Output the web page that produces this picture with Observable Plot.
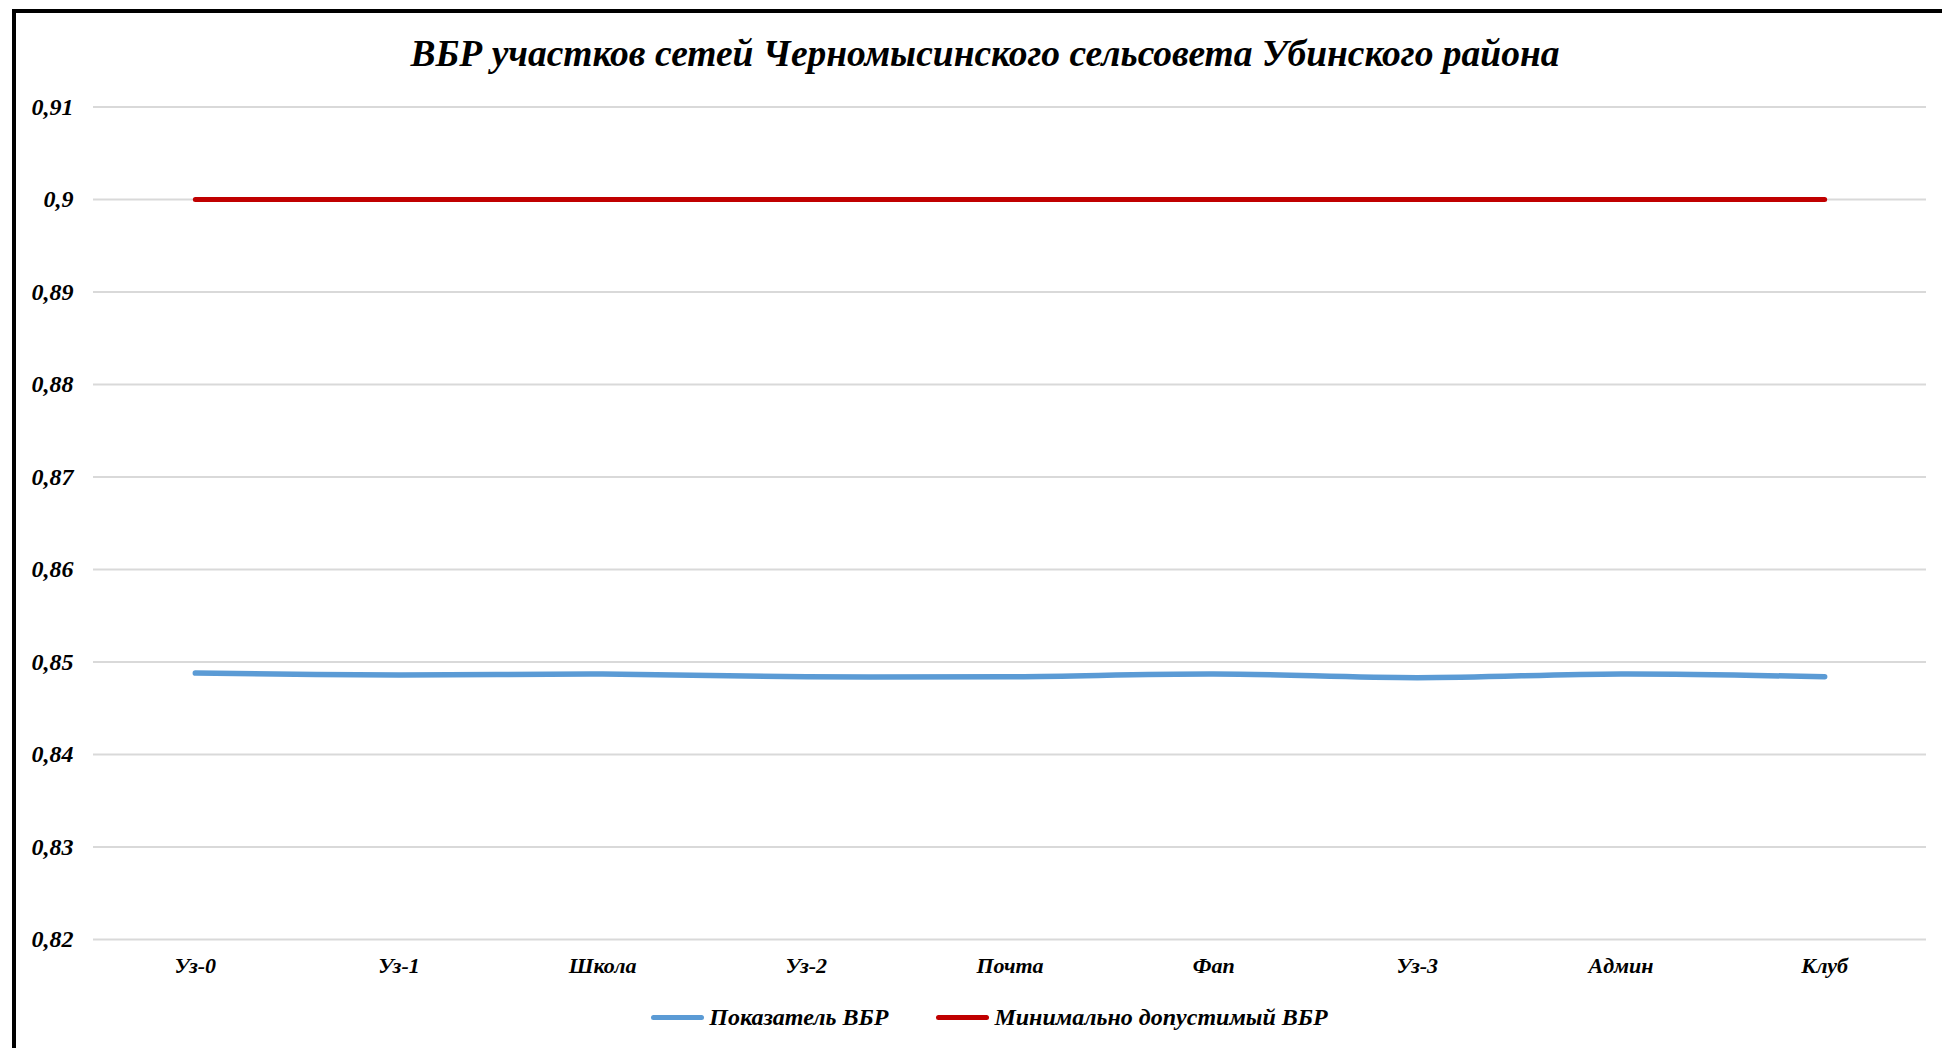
<!DOCTYPE html>
<html>
<head>
<meta charset="utf-8">
<script src="https://cdn.jsdelivr.net/npm/d3@7"></script>
<script src="https://cdn.jsdelivr.net/npm/@observablehq/plot@0.6"></script>
<style>
  html, body { margin: 0; padding: 0; background: #fff; overflow: hidden; }
  body { width: 1942px; height: 1048px; position: relative; font-family: "Liberation Serif", "Times New Roman", serif; }
  #frame { position: absolute; left: 12px; top: 9px; width: 2100px; height: 1200px; border-left: 4px solid #000; border-top: 4px solid #000; pointer-events: none; }
  #title { height: 80px; line-height: 108px; text-align: center; padding-left: 28px; box-sizing: border-box; width: 1942px;
           font-size: 37.5px; font-weight: bold; font-style: italic; color: #000; }
  #chart svg { display: block; }
  #legend { height: 54px; width: 1942px; display: flex; justify-content: center; align-items: center; padding-left: 37px; box-sizing: border-box;
            font-size: 24px; font-weight: bold; font-style: italic; color: #000; }
  .item { display: flex; align-items: center; margin: 0 24px; }
  .sw { display: inline-block; width: 53px; height: 5px; border-radius: 3px; margin-right: 5px; }
</style>
</head>
<body>
<div id="title">ВБР участков сетей Черномысинского сельсовета Убинского района</div>
<div id="chart"></div>
<div id="legend"></div>
<div id="frame"></div>
<script>
const categories = ["Уз-0", "Уз-1", "Школа", "Уз-2", "Почта", "Фап", "Уз-3", "Админ", "Клуб"];
const vbrValues = [0.8488, 0.8486, 0.8487, 0.8484, 0.8484, 0.8487, 0.8483, 0.8487, 0.8484];
const minValues = [0.9, 0.9, 0.9, 0.9, 0.9, 0.9, 0.9, 0.9, 0.9];
const yTicks = [0.82, 0.83, 0.84, 0.85, 0.86, 0.87, 0.88, 0.89, 0.9, 0.91];
const seriesNames = ["Показатель ВБР", "Минимально допустимый ВБР"];
const seriesColors = ["#5B9BD5", "#C00000"];

const vbrData = categories.map((c, i) => ({cat: c, value: vbrValues[i]}));
const minData = categories.map((c, i) => ({cat: c, value: minValues[i]}));

const chart = Plot.plot({
  width: 1942,
  height: 910,
  marginLeft: 93,
  marginRight: 16,
  marginTop: 26.5,
  marginBottom: 51,
  style: { fontFamily: "'Liberation Serif', 'Times New Roman', serif", fontWeight: "bold", fontStyle: "italic", fontSize: "22px", color: "#000", background: "transparent" },
  x: { type: "point", domain: categories, padding: 0.5, round: false, label: null },
  y: { domain: [0.82, 0.91], label: null },
  marks: [
    Plot.gridY(yTicks, { stroke: "#D9D9D9", strokeOpacity: 1, strokeWidth: 2 }),
    Plot.axisY(yTicks, { tickSize: 0, tickPadding: 20, tickFormat: d => String(d).replace(".", ","), fontSize: 24, fill: "#000" }),
    Plot.axisX({ tickSize: 0, tickPadding: 18, fontSize: 22, fill: "#000" }),
    Plot.line(minData, { x: "cat", y: "value", stroke: seriesColors[1], strokeWidth: 5, strokeLinecap: "round" }),
    Plot.line(vbrData, { x: "cat", y: "value", stroke: seriesColors[0], strokeWidth: 5.5, strokeLinecap: "round", curve: "catmull-rom" })
  ]
});
document.getElementById("chart").appendChild(chart);

const legend = document.getElementById("legend");
seriesNames.forEach((name, i) => {
  const item = document.createElement("div");
  item.className = "item";
  const sw = document.createElement("span");
  sw.className = "sw";
  sw.style.background = seriesColors[i];
  item.appendChild(sw);
  const t = document.createElement("span");
  t.textContent = name;
  item.appendChild(t);
  legend.appendChild(item);
});
</script>
</body>
</html>
